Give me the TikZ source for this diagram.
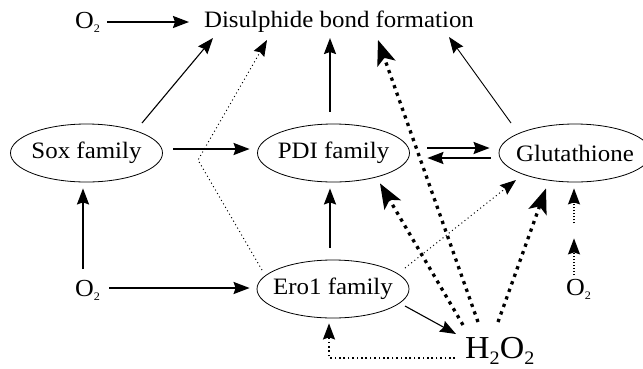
\documentclass[tikz,border=0pt]{standalone}
\usepackage{fontspec}
\setmainfont{Liberation Serif}[FakeStretch=1.06]
\usetikzlibrary{shapes.geometric}
\usetikzlibrary{arrows.meta}
\newcommand{\subtwo}[2]{\raisebox{-#1}{\fontsize{#2}{#2}\selectfont 2}}
\newcommand{\famlabel}[1]{\makebox[0pt]{#1}}
\tikzset{%
  fam/.style={ellipse, draw, line width=0.8pt, minimum width=152pt, minimum height=58pt, inner sep=0pt, font=\fontsize{23.5pt}{28pt}\selectfont},
  lbl/.style={inner sep=0pt, font=\fontsize{23.5pt}{28pt}\selectfont},
  ox/.style={inner sep=0pt, anchor=base west, font=\fontsize{24.5pt}{28pt}\selectfont},
  arr/.style={-{Stealth[length=16pt, width=12pt, inset=2pt]}, line width=1.8pt},
  thinarr/.style={arr, line width=1.1pt},
  dotarr/.style={arr, line width=1pt, dash pattern=on 1pt off 3pt},
  densedot/.style={arr, line width=1.3pt, dash pattern=on 1.3pt off 1.7pt},
  loopdot/.style={arr, line width=1.6pt, dash pattern=on 1.6pt off 2.8pt},
  bigdot/.style={-{Stealth[length=25pt, width=19pt, inset=6pt]}, line width=3.3pt, dash pattern=on 3.3pt off 4.7pt},
}

\begin{document}
\begin{tikzpicture}[x=1pt, y=-1pt]
  \useasboundingbox (0,0) rectangle (643,368);

  % the four families
  \node[fam] (sox) at (86.5,153) {\famlabel{Sox family}};
  \node[fam] (pdi) at (333.5,153) {\famlabel{PDI family}};
  \node[fam] (glu) at (575,153) {\famlabel{Glutathione}};
  \node[fam] (ero) at (333,289) {\famlabel{Ero1 family}};

  % plain labels
  \node[lbl, anchor=base] (dsb) at (339,27) {Disulphide bond formation};
  \node[ox] (o2a) at (75,28) {O\subtwo{4.5pt}{11.5pt}};
  \node[ox] (o2b) at (75,296) {O\subtwo{4.5pt}{11.5pt}};
  \node[ox] (o2c) at (566,295) {O\subtwo{4.5pt}{11.5pt}};
  \node[ox, font=\fontsize{32pt}{36pt}\selectfont] (hpo) at (465,358) {H\subtwo{6pt}{19pt}O\subtwo{6pt}{19pt}};

  % kink of the dotted Ero1 line, gap in the dotted O2 line
  \coordinate (kink) at (198,160);
  \coordinate (gaplo) at ([shift={(-1,56)}]glu.south);
  \coordinate (gaphi) at ([shift={(-1,41)}]glu.south);

  % arrows into disulphide bond formation
  \draw[arr] ([shift={(32,-6)}]o2a.base west) -- ([shift={(-150,-5)}]dsb.base);
  \draw[thinarr] ([shift={(55.5,-30)}]sox.center) -- ([shift={(-126,11)}]dsb.base);
  \draw[dotarr] ([shift={(-71,-19)}]ero.center) -- (kink) -- ([shift={(-72,13)}]dsb.base);
  \draw[arr] ([shift={(-3.5,-12)}]pdi.north) -- ([shift={(-9,11)}]dsb.base);
  \draw[bigdot] ([shift={(13,-36)}]hpo.base west) -- ([shift={(39,13)}]dsb.base);
  \draw[thinarr, line width=0.9pt] ([shift={(-64,-30)}]glu.center) -- ([shift={(110,10)}]dsb.base);

  % arrows between the families
  \draw[arr] ([shift={(10.5,-4)}]sox.east) -- ([shift={(-7.5,-4)}]pdi.west);
  \draw[arr] ([shift={(17.5,-5)}]pdi.east) -- ([shift={(-9,-5)}]glu.west);
  \draw[arr] ([shift={(-8,5)}]glu.west) -- ([shift={(17.5,5)}]pdi.east);
  \draw[arr] ([shift={(-3,-12)}]ero.north) -- ([shift={(-3.5,6)}]pdi.south);
  \draw[dotarr] ([shift={(72,-21)}]ero.center) -- ([shift={(-59,27)}]glu.center);

  % oxygen inputs
  \draw[arr] ([shift={(8,-27)}]o2b.base west) -- ([shift={(-3.5,6)}]sox.south);
  \draw[arr] ([shift={(34,-8)}]o2b.base west) -- ([shift={(-7,-1)}]ero.west);
  \draw[densedot] ([shift={(8,-20)}]o2c.base west) -- (gaplo);
  \draw[densedot] (gaphi) -- ([shift={(-1,6)}]glu.south);

  % peroxide in and out
  \draw[thinarr] ([shift={(72,17)}]ero.center) -- ([shift={(-9,-24)}]hpo.base west);
  \draw[loopdot] ([shift={(-10,0)}]hpo.base west) -| ([shift={(-4,5)}]ero.south);
  \draw[bigdot] ([shift={(-2,-33)}]hpo.base west) -- ([shift={(46.5,1)}]pdi.south);
  \draw[bigdot] ([shift={(33,-36)}]hpo.base west) -- ([shift={(-29,6)}]glu.south);

\end{tikzpicture}
\end{document}
